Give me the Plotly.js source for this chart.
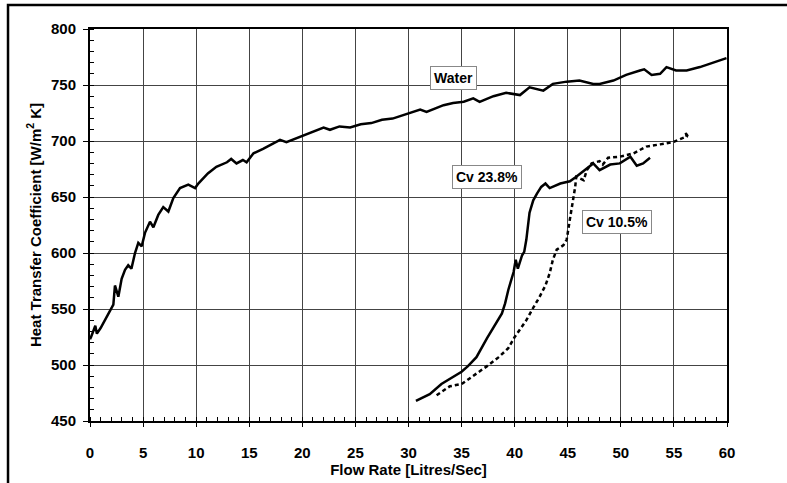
<!DOCTYPE html>
<html><head><meta charset="utf-8">
<script src="https://cdn.plot.ly/plotly-3.0.1.min.js"></script>
<style>html,body{margin:0;padding:0;background:#fff;}#chart{width:787px;height:483px;}</style>
</head><body><div id="chart"></div>
<script>
var waterX = [0,0.1,0.5,0.65,1.0,1.4,1.9,2.2,2.35,2.67,2.98,3.3,3.6,3.9,4.24,4.55,4.87,5.18,5.65,5.97,6.43,6.9,7.38,7.85,8.48,9.26,9.9,10.2,11.1,11.9,12.9,13.3,13.8,14.4,14.75,15.4,16.3,17.3,17.9,18.5,19.8,21,22,22.6,23.5,24.5,25.5,26.5,27.5,28.5,29.2,30.1,31.1,31.7,33.3,34.2,35.2,36.1,36.7,38,39.2,40.5,41.4,42.7,43.6,44.9,46.1,47.4,48,49.3,50.5,51.8,52.2,52.9,53.7,54.3,55.2,56.2,57.45,58.7,59.95];
var waterY = [523,525,535,528,533,540,549,554,571,561,577,585,589,586,600,609,606,618,628,623,634,641,637,649,658,661,658,662,671,677,681,684,680,683,681,689,693,698,701,699,704,708,712,710,713,712,715,716,719,720,722,725,728,726,732,734,735,738,735,740,743,741,748,745,751,753,754,751,751,754,759,763,764,759,760,766,763,763,766,770,774];
var cv238X = [30.7,32,33.1,34.2,35,35.6,36.4,37.4,38.1,38.8,39.1,39.4,39.9,40.1,40.3,40.7,40.9,41.1,41.4,41.75,42.1,42.5,42.9,43.3,44.3,45.2,45.8,46.8,47.4,48,49,49.9,50.9,51.5,52.1,52.75];
var cv238Y = [468,474,483,489,494,499,507,524,535,546,555,567,583,594,586,598,601,612,636,647,653,659,662,658,662,664,668,676,680,674,679,680,686,678,680,685];
var cv105X = [32.65,33.9,35,36.1,37.4,38.5,39.4,40,41.1,41.8,42.3,42.9,43.3,43.6,43.96,44.6,44.9,45.2,45.5,45.7,45.8,46.5,46.8,47.25,48,48.3,48.8,49.9,51.2,52.4,53.7,54.9,56.2,56.1,56.3];
var cv105Y = [473,481,483,490,499,507,515,525,540,552,560,571,582,594,603,607,612,630,647,659,668,665,674,680,682,679,685,686,689,695,697,699,704,708,704];
var labelText = ["Water","Cv 23.8%","Cv 10.5%"];
var labelX = [34.2,37.4,49.6];
var labelY = [756,668,628];

var tickFont = {family:'Liberation Sans, Arial, sans-serif', size:15, color:'#000', weight:'bold'};
var narrow = 'Liberation Sans Narrow, Arial Narrow, Arial, sans-serif';
var traces = [
  {x:waterX, y:waterY, mode:'lines', line:{color:'#000', width:2.5}, name:'Water'},
  {x:cv238X, y:cv238Y, mode:'lines', line:{color:'#000', width:2.5}, name:'Cv 23.8%'},
  {x:cv105X, y:cv105Y, mode:'lines', line:{color:'#000', width:2.5, dash:'4px,3px'}, name:'Cv 10.5%'}
];
var annotations = labelText.map(function(t,i){
  return {x:labelX[i], y:labelY[i], xref:'x', yref:'y', text:'<b>'+t+'</b>', showarrow:false,
    font:{family:narrow, size:14, color:'#000'},
    bgcolor:'#fff', bordercolor:'#888', borderwidth:1, borderpad:3};
});
var layout = {
  width:787, height:483,
  margin:{l:90, r:60, t:29, b:62},
  paper_bgcolor:'#fff', plot_bgcolor:'#fff',
  showlegend:false,
  xaxis:{range:[0,60], dtick:5, tick0:0, showgrid:true, gridcolor:'#444', gridwidth:1,
    showline:true, linecolor:'#000', linewidth:2, mirror:true, zeroline:false,
    ticks:'outside', ticklen:4, tickcolor:'#000', tickfont:tickFont, ticklabelstandoff:13,
    minor:{dtick:1, ticks:'inside', ticklen:4, tickcolor:'#000', showgrid:false},
    title:{text:'<b>Flow Rate [Litres/Sec]</b>', font:{family:narrow, size:15, color:'#000'}, standoff:4}},
  yaxis:{range:[450,800], dtick:50, tick0:450, showgrid:true, gridcolor:'#444', gridwidth:1,
    showline:true, linecolor:'#000', linewidth:2, mirror:true, zeroline:false,
    ticks:'outside', ticklen:5, tickcolor:'#000', tickfont:tickFont, ticklabelstandoff:4,
    minor:{dtick:10, ticks:'inside', ticklen:4, tickcolor:'#000', showgrid:false},
    title:{text:'<b>Heat Transfer Coefficient [W/m<sup>2</sup> K]</b>', font:{family:narrow, size:15, color:'#000'}, standoff:6}},
  annotations:annotations,
  shapes:[{type:'rect', xref:'paper', yref:'paper', x0:-0.1287, x1:1.3, y0:-0.3, y1:1.061, line:{color:'#000', width:2.5}, fillcolor:'rgba(0,0,0,0)', layer:'above'}]
};
Plotly.newPlot('chart', traces, layout, {displayModeBar:false, staticPlot:true});
</script></body></html>
